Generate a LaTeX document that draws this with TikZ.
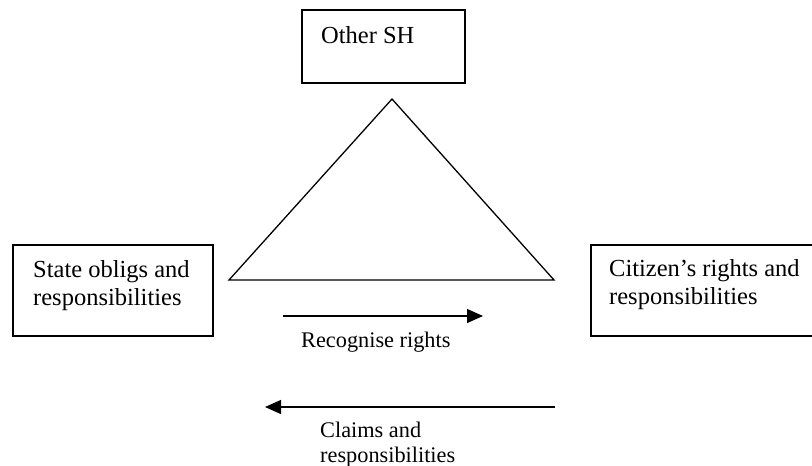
\documentclass[tikz,border=0pt]{standalone}
\usepackage{fontspec}
\setmainfont{Liberation Serif}
\usetikzlibrary{arrows.meta}
\begin{document}
\begin{tikzpicture}[x=1pt,y=-1pt,
  boxframe/.style={draw, line width=1.5pt, rectangle, inner sep=0pt, anchor=north west},
  boxtext/.style={anchor=base west, inner sep=0pt, align=left, font=\fontsize{24.5}{28}\selectfont},
  labeltext/.style={anchor=base west, inner sep=0pt, align=left, font=\fontsize{22.3}{25}\selectfont},
  flow/.style={line width=1.3pt, -{Triangle[length=16pt,width=14pt]}}]
\useasboundingbox (0,0) rectangle (812,466);
\clip (0,0) rectangle (812,466);
% boxes
\node[boxframe, minimum width=163pt, minimum height=73pt] (other) at (301,9) {};
\node[boxframe, minimum width=200pt, minimum height=91pt] (state) at (12,244) {};
\node[boxframe, minimum width=240pt, minimum height=91pt] (citizen) at (590,244) {};
\node[boxtext] (otherT) at (321,43) {Other SH};
\node[boxtext] (stateT) at (33,305) {State obligs and\\responsibilities};
\node[boxtext] (citizenT) at (609,304) {Citizen’s rights and\\responsibilities};
% triangle
\coordinate (apex) at (392,99);
\coordinate (bl) at (229,280);
\coordinate (br) at (554,280);
\draw[line width=1.3pt, line join=miter] (apex) -- (bl) -- (br) -- cycle;
% arrows
\coordinate (a1s) at (283,316);
\coordinate (a1e) at (483,316);
\draw[flow] (a1s) -- (a1e);
\node[labeltext] (recog) at (301,347) {Recognise rights};
\coordinate (a2s) at (555,407);
\coordinate (a2e) at (265,407);
\draw[flow] (a2s) -- (a2e);
\node[labeltext] (claims) at (320,462) {Claims and\\responsibilities};
\end{tikzpicture}
\end{document}
